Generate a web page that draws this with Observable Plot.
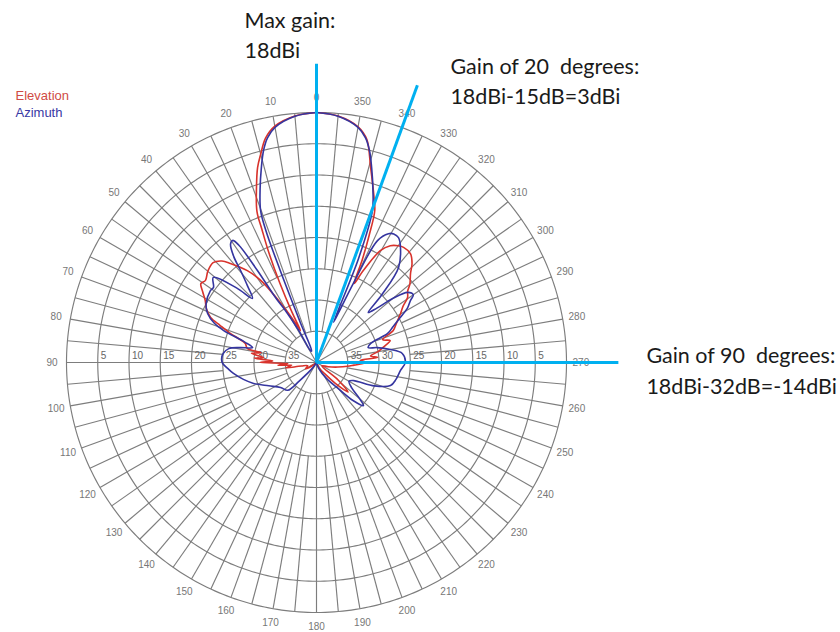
<!DOCTYPE html>
<html><head><meta charset="utf-8">
<script src="https://cdn.jsdelivr.net/npm/d3@7"></script>
<script src="https://cdn.jsdelivr.net/npm/@observablehq/plot@0.6"></script>
<style>body{margin:0;background:#fff}</style>
</head><body><div id="chart"></div>
<script>
// ---- data (angle in degrees, counter-clockwise from top; gain in dB relative to max) ----
const aziAngle = [0,5,10,12.3,14,15.8,18,20.2,21,21.5,22,23,26,29,31,32.2,32.7,33.5,34.5,36,38,39.6,42,45,47,50.5,53.9,56,62,65.8,69,71,74,76.8,79,81,84.5,88,90.6,94,97.5,103,108.4,116,124.8,134,137,145,160,185,200,212,220,224,227.5,230,234,240,244,248,252.7,258,264.6,270,276,280,283.8,286,289.4,292.2,295,298.2,301,303.4,305,307.6,310,312,314,316,319.2,323.9,326.7,329,330.8,333.4,335,336,337,338,339.8,342,344.2,346,347.7,350,355,360];
const aziGain  = [0,-0.45,-1.8,-3.2,-5,-7.6,-10.8,-14.1,-17.5,-24,-33,-38,-38,-34,-30,-28,-22.5,-17.5,-16.3,-16.6,-18.5,-21,-23.5,-25.5,-22.5,-18.6,-19.6,-19.5,-20,-20.9,-22.5,-24.3,-28,-29.5,-27.5,-25.8,-25,-24.8,-25,-25.8,-26.6,-28,-29.4,-31.5,-33,-33.6,-36,-39,-40,-40,-39,-37,-34.5,-31.5,-29.8,-31,-33,-34,-33.4,-30,-27.6,-27,-26.5,-25.8,-26.2,-28,-30,-31.4,-30.8,-27.7,-26.5,-24.8,-23,-22,-21.1,-21.6,-24,-27,-28.5,-25,-19.9,-17.2,-16.1,-16,-16.4,-18.2,-25.9,-31,-33,-22,-14.1,-10.8,-7.6,-5,-3.2,-1.8,-0.45,0];
const elevAngle = [0,5,10,12.8,15,16.8,19,21.5,22.3,23.5,24.8,26,26.6,28,30,32,34.3,37,41,43,46,50,53.5,55.7,58,60.8,64,67,69,71.4,73,75,78.5,80,82,84.6,86,88,90,92,94,96,100,103,110,120,130,150,190,205,215,222,227,231,238,250,258,263,266,270,273,274.7,277,280,283,286.6,289,292.6,296,300.3,303,305.5,308,310,313.4,316,319.2,322.9,325,327.7,330.3,333,334.5,336,337.5,339,341,344.5,347.3,350,355,360];
const elevGain  = [0,-0.4,-1.6,-3.2,-5.5,-7.4,-10.5,-14,-17,-21,-26,-31,-34.3,-33,-30.5,-27.5,-24,-21.6,-19,-17.8,-17,-17.3,-17.9,-17.6,-18.5,-19.6,-20.4,-21.6,-23.5,-25.5,-27,-28.2,-28.7,-31,-29.5,-31.5,-30,-33,-31,-35.4,-33.8,-36,-35,-37.5,-38.5,-38,-39.5,-40,-40,-39,-38,-35.5,-33.1,-35.5,-39,-38,-36.5,-35,-34,-32,-33,-30.2,-31.3,-30,-29,-27.7,-28.8,-26.7,-25.8,-24.4,-23.5,-22.1,-21.5,-20.5,-19.3,-18,-17,-16.9,-17.2,-17.9,-19.4,-23.5,-26,-22,-18,-14,-11.8,-7.6,-3.4,-1.7,-0.4,0];
const ringLevels = [0,5,10,15,20,25,30,35];          // dB below maximum
const ringLabels = [5,10,15,20,25,30,35];
const angleLabels = d3.range(0,360,10);
const seriesNames = ["Elevation","Azimuth"];
const noteAngles = [0,340,270];                       // annotation rays (plot angle)
const noteLength = [47.8,47.2,48.3];                  // ray length in dB-range units
const noteTexts = ["Max gain:\n18dBi","Gain of 20  degrees:\n18dBi-15dB=3dBi","Gain of 90  degrees:\n18dBi-32dB=-14dBi"];

// ---- helpers ----
const FLOOR = -40, RANGE = 40;
const rad = a => a*Math.PI/180;
const polar = (a, r) => ({x: -r*Math.sin(rad(a)), y: r*Math.cos(rad(a))});
const fromGain = (a, g) => polar(a, Math.max(0, g - FLOOR));

const azimuth = aziAngle.map((a,i) => fromGain(a, aziGain[i]));
const elevation = elevAngle.map((a,i) => fromGain(a, elevGain[i]));

const circles = ringLevels.flatMap(d => d3.range(0,361,1).map(a => ({ring:d, ...polar(a, RANGE-d)})));
const spokes = d3.range(0,360,5).map(a => {
  const inner = a%30===0 ? 0 : a%10===0 ? 5 : 15;
  const p0 = polar(a, inner), p1 = polar(a, RANGE);
  return {x1:p0.x, y1:p0.y, x2:p1.x, y2:p1.y};
});
const angleText = angleLabels.map(a => ({label:String(a), ...polar(a, 42.3)}));
const ringText = ringLabels.flatMap(d => [{label:String(d), x:-(RANGE-d), y:0},{label:String(d), x:(RANGE-d), y:0}]);
const rays = noteAngles.map((a,i) => ({...polar(a, noteLength[i]), text: noteTexts[i]}));

const font = "'Liberation Sans', Arial, sans-serif";
const noteFont = "Lato, 'Open Sans', sans-serif";
const noteOffsets = [[-72,-6],[33,19],[28,31]];

const chart = Plot.plot({
  width: 840, height: 632, margin: 0,
  x: {domain:[-RANGE,RANGE], range:[66,566], axis:null},
  y: {domain:[-RANGE,RANGE], range:[612,112], axis:null},
  style: {background:"#fff", fontFamily: font},
  marks: [
    Plot.line(circles, {x:"x", y:"y", z:"ring", stroke:"#7d7d7d", strokeWidth:1.15}),
    Plot.link(spokes, {x1:"x1", y1:"y1", x2:"x2", y2:"y2", stroke:"#7d7d7d", strokeWidth:1.15}),
    Plot.text(angleText, {x:"x", y:"y", text:"label", fill:"#777", fontSize:10}),
    Plot.text(ringText, {x:"x", y:"y", text:"label", fill:"#666", fontSize:10, textAnchor:"start", dx:3, dy:-7}),
    Plot.line(elevation, {x:"x", y:"y", stroke:"#d8332c", strokeWidth:1.6, curve:"catmull-rom"}),
    Plot.line(azimuth, {x:"x", y:"y", stroke:"#35359f", strokeWidth:1.6, curve:"catmull-rom"}),
    Plot.link(rays, {x1:() => 0, y1:() => 0, x2:"x", y2:"y", stroke:"#00b0f0", strokeWidth:3}),
    ...rays.map((r,i) => Plot.text([r], {x:"x", y:"y", text:"text", textAnchor:"start", lineAnchor:"bottom", lineHeight:1.4, dx:noteOffsets[i][0], dy:noteOffsets[i][1], fontSize:21.5, fill:"#1a1a1a", fontFamily:noteFont})),
    Plot.text([seriesNames[0]], {frameAnchor:"top-left", text:d => d, dx:15, dy:99, lineAnchor:"bottom", textAnchor:"start", fill:"#d04a44", fontSize:13, letterSpacing:-0.5}),
    Plot.text([seriesNames[1]], {frameAnchor:"top-left", text:d => d, dx:15, dy:116, lineAnchor:"bottom", textAnchor:"start", fill:"#3838a4", fontSize:13, letterSpacing:-0.5})
  ]
});
document.getElementById("chart").append(chart);
</script>
</body></html>
